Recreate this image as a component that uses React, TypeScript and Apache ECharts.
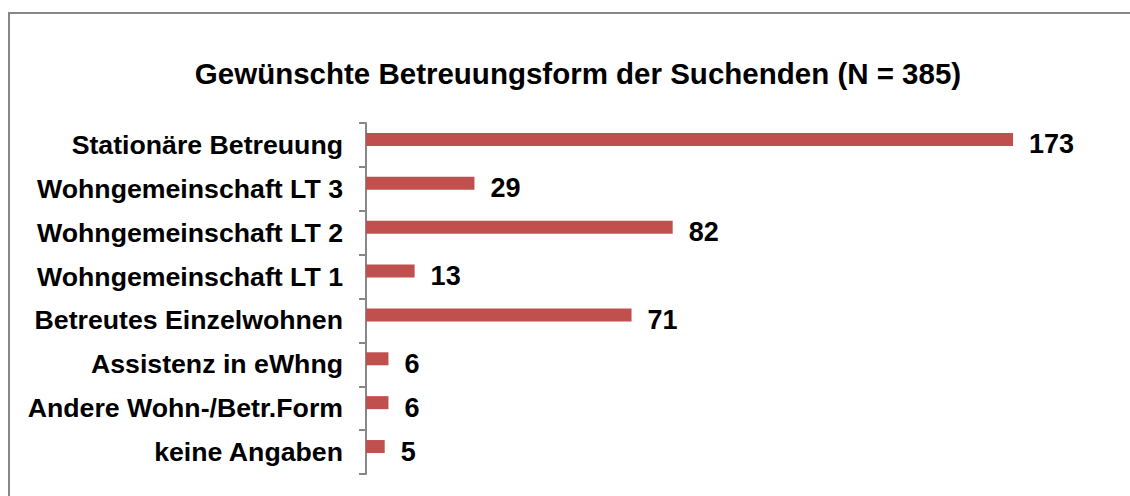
import React, { useEffect, useRef } from "react";
import * as echarts from "echarts";

const titleText = "Gewünschte Betreuungsform der Suchenden (N = 385)";
const categories = [
  "Stationäre Betreuung",
  "Wohngemeinschaft LT 3",
  "Wohngemeinschaft LT 2",
  "Wohngemeinschaft LT 1",
  "Betreutes Einzelwohnen",
  "Assistenz in eWhng",
  "Andere Wohn-/Betr.Form",
  "keine Angaben",
];
const values = [173, 29, 82, 13, 71, 6, 6, 5];
const emptyValues = [null, null, null, null, null, null, null, null];

const FONT = "'Liberation Sans', Arial, sans-serif";

export default function App() {
  const ref = useRef<HTMLDivElement>(null);
  useEffect(() => {
    if (!ref.current) return;
    const chart = echarts.init(ref.current, null, { renderer: "svg" });
    chart.setOption({
      animation: false,
      backgroundColor: "#ffffff",
      title: {
        text: titleText,
        left: 573,
        top: 53,
        textAlign: "center",
        textStyle: { fontFamily: FONT, fontSize: 29.5, fontWeight: "bold", color: "#000" },
      },
      graphic: [
        {
          type: "rect",
          shape: { x: 9, y: 13, width: 1300, height: 700 },
          style: { fill: "none", stroke: "#878787", lineWidth: 2 },
          silent: true,
        },
      ],
      grid: { left: 366, top: 123, width: 748, height: 351, containLabel: false },
      xAxis: {
        type: "value",
        min: 0,
        max: 200,
        show: false,
      },
      yAxis: {
        type: "category",
        inverse: true,
        data: categories,
        axisLine: { show: true, lineStyle: { color: "#878787", width: 2 } },
        axisTick: { show: true, length: 7, lineStyle: { color: "#878787", width: 2 } },
        axisLabel: {
          margin: 23,
          fontFamily: FONT,
          fontSize: 26.7,
          fontWeight: "bold",
          color: "#000",
        },
        splitLine: { show: false },
      },
      series: [
        {
          type: "bar",
          data: values,
          barWidth: 13,
          barGap: "-15%",
          itemStyle: { color: "#C0504D" },
          label: {
            show: true,
            position: "right",
            distance: 16,
            offset: [0, 5],
            fontFamily: FONT,
            fontSize: 27,
            fontWeight: "bold",
            color: "#000",
          },
        },
        {
          type: "bar",
          data: emptyValues,
          barWidth: 13,
          itemStyle: { color: "#4F81BD" },
        },
      ],
    });
    return () => chart.dispose();
  }, []);
  return (
    <div
      ref={ref}
      style={{ position: "fixed", left: 0, top: 0, width: 1130, height: 496 }}
    />
  );
}
